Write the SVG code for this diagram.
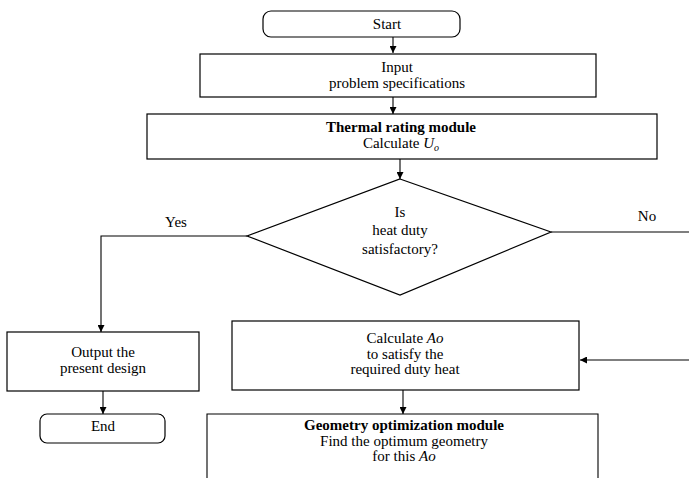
<svg xmlns="http://www.w3.org/2000/svg" width="689" height="478" viewBox="0 0 689 478">
<style>
.box{fill:#fff;stroke:#000;stroke-width:1.2}
.ln{fill:none;stroke:#000;stroke-width:1.1}
text{font-family:"Liberation Serif","Times New Roman",serif;font-size:15px;fill:#000;text-anchor:middle}
.b{font-weight:bold}
.i{font-style:italic}
</style>
<defs>
<marker id="ah" viewBox="0 0 10 10" refX="10" refY="5" markerWidth="7" markerHeight="7" markerUnits="userSpaceOnUse" orient="auto">
<path d="M0,0 L10,5 L0,10 z" fill="#000"/>
</marker>
</defs>
<rect width="689" height="478" fill="#fff"/>
<g id="connectors">
<line class="ln" x1="393" y1="37" x2="393" y2="53" marker-end="url(#ah)"/>
<line class="ln" x1="393" y1="97" x2="393" y2="114" marker-end="url(#ah)"/>
<line class="ln" x1="400" y1="159" x2="400" y2="179" marker-end="url(#ah)"/>
<polyline class="ln" points="247,236 101,236 101,332" marker-end="url(#ah)"/>
<line class="ln" x1="551" y1="232" x2="689" y2="232"/>
<line class="ln" x1="689" y1="360" x2="580" y2="360" marker-end="url(#ah)"/>
<line class="ln" x1="103" y1="391" x2="103" y2="414" marker-end="url(#ah)"/>
<line class="ln" x1="403" y1="390" x2="403" y2="414" marker-end="url(#ah)"/>
<text x="176" y="227">Yes</text>
<text x="647" y="221">No</text>
</g>
<g id="start">
<rect class="box" x="263" y="11" width="197" height="26" rx="8"/>
<text x="387" y="29">Start</text>
</g>
<g id="input">
<rect class="box" x="200" y="54" width="396" height="43"/>
<text x="397" y="72">Input</text>
<text x="397" y="88">problem specifications</text>
</g>
<g id="thermal">
<rect class="box" x="147" y="114" width="510" height="45"/>
<text class="b" x="401" y="132">Thermal rating module</text>
<text x="401" y="148">Calculate <tspan class="i">U</tspan><tspan class="i" font-size="10" dy="3">o</tspan></text>
</g>
<g id="decision">
<polygon class="box" points="400,179 551,232 400,295 247,236"/>
<text x="400" y="217">Is</text>
<text x="400" y="235">heat duty</text>
<text x="400" y="254">satisfactory?</text>
</g>
<g id="output">
<rect class="box" x="7" y="332" width="192" height="59"/>
<text x="103" y="357">Output the</text>
<text x="103" y="373">present design</text>
</g>
<g id="end">
<rect class="box" x="40" y="414" width="125" height="29" rx="7"/>
<text x="103" y="431">End</text>
</g>
<g id="calc">
<rect class="box" x="232" y="321" width="347" height="69"/>
<text x="405" y="343">Calculate <tspan class="i">Ao</tspan></text>
<text x="405" y="359">to satisfy the</text>
<text x="405" y="374">required duty heat</text>
</g>
<g id="geometry">
<path class="ln" d="M207,480 V414 H598 V480" stroke-width="1.2"/>
<text class="b" x="404" y="430">Geometry optimization module</text>
<text x="404" y="446">Find the optimum geometry</text>
<text x="404" y="461">for this <tspan class="i">Ao</tspan></text>
</g>
</svg>
